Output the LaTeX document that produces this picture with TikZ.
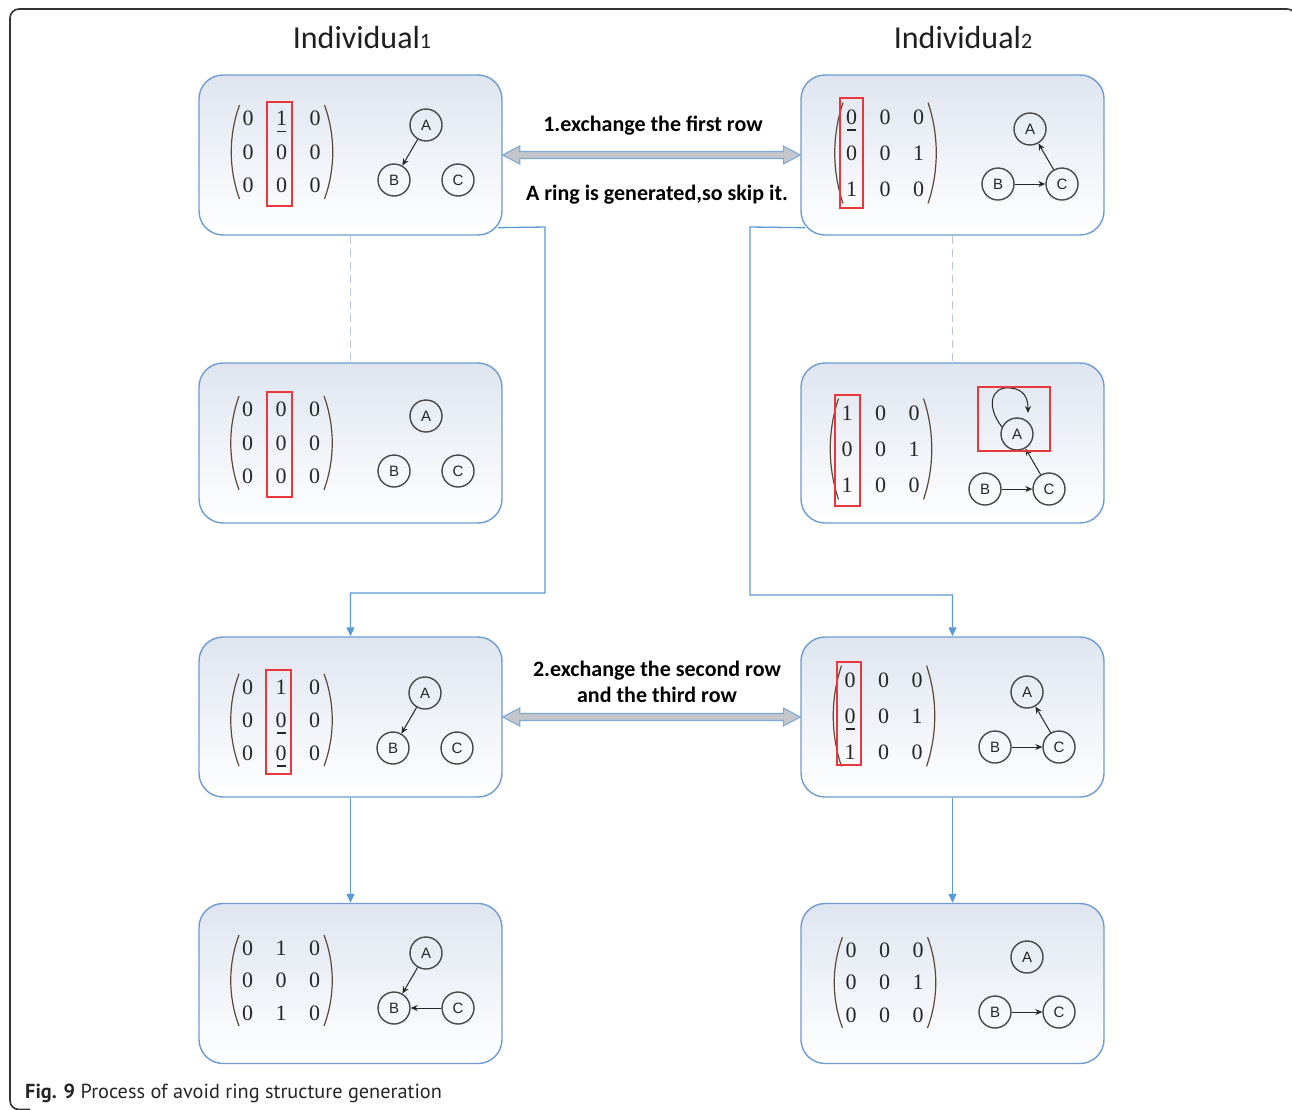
\documentclass[tikz,border=0pt]{standalone}
\usepackage{fontspec}
\newfontfamily\headfont{Carlito}
\newfontfamily\capfont{PT Sans}
\newfontfamily\vertfont{Liberation Sans}
\newfontfamily\digitfont{Liberation Serif}
\usetikzlibrary{arrows.meta,calc}

\definecolor{panelline}{HTML}{6E9CD2}
\definecolor{paneltop}{HTML}{DFE5F0}
\definecolor{flowblue}{HTML}{5B9BD5}
\definecolor{markred}{HTML}{E8383D}
\definecolor{guidegrey}{HTML}{BCC6D6}
\definecolor{swapfill}{HTML}{C4C6CA}
\definecolor{swapline}{HTML}{7FA9D9}
\definecolor{parencol}{HTML}{5A4A3A}

% 3x3 adjacency matrix: prefix, centre x, centre y, row step, nine entries
\newcommand\adjmat[5]{%
  \foreach \v [count=\i from 0] in {#5} {
    \pgfmathtruncatemacro\rr{div(\i,3)}%
    \pgfmathtruncatemacro\cc{mod(\i,3)}%
    \node[digit] (#1m\i) at ({#2+(\cc-1)*33.5},{#3+(\rr-1)*#4}) {\v};
  }
  \draw[paren] ({#2-42},{#3-1.4*#4}) .. controls ({#2-53},{#3-0.5*#4}) and ({#2-53},{#3+0.5*#4}) .. ({#2-42},{#3+1.4*#4});
  \draw[paren] ({#2+43},{#3-1.4*#4}) .. controls ({#2+54},{#3-0.5*#4}) and ({#2+54},{#3+0.5*#4}) .. ({#2+43},{#3+1.4*#4});
}

% the three vertices A, B, C of a small network
\newcommand\abc[3]{%
  \node[vert] (#1A) at (#2,#3) {A};
  \node[vert] (#1B) at ({#2-32},{#3+55}) {B};
  \node[vert] (#1C) at ({#2+32},{#3+55}) {C};
}

% fat two-headed arrow between two panels
\newcommand\exchangearrow[2]{%
  \filldraw[swaparrow] let \p1=(#1.east), \p2=(#2.west) in
  (\x1,\y1) -- ({\x1+17pt},{\y1+9pt}) -- ({\x1+17pt},{\y1+3.5pt}) -- ({\x2-17pt},{\y1+3.5pt})
  -- ({\x2-17pt},{\y1+9pt}) -- (\x2,\y1) -- ({\x2-17pt},{\y1-9pt}) -- ({\x2-17pt},{\y1-3.5pt})
  -- ({\x1+17pt},{\y1-3.5pt}) -- ({\x1+17pt},{\y1-9pt}) -- cycle;
}

\begin{document}
\begin{tikzpicture}[x=1pt,y=-1pt,
  panel/.style={draw=panelline, line width=1.4, rounded corners=24, top color=paneltop,
    bottom color=white, minimum width=303, minimum height=160, inner sep=0},
  digit/.style={inner sep=0, font=\digitfont\fontsize{22}{24}\selectfont, text=black!85},
  paren/.style={draw=parencol, line width=1.2},
  vert/.style={circle, draw=black!72, line width=1.4, minimum size=32, inner sep=0,
    font=\vertfont\fontsize{15}{15}\selectfont, text=black!85},
  dagedge/.style={draw=black!85, line width=1, -{Stealth[length=7,width=6]}},
  redbox/.style={draw=markred, line width=1.5},
  uline/.style={draw=black!85, line width=1.2},
  flowline/.style={draw=flowblue, line width=1.3, -{Triangle[length=9,width=8]}},
  guide/.style={draw=guidegrey, line width=1.2, dash pattern=on 8pt off 5pt},
  swaparrow/.style={fill=swapfill, draw=swapline, line width=1.1},
  headtext/.style={font=\headfont\fontsize{32}{32}\selectfont, text=black!88},
  steptext/.style={font=\headfont\bfseries\fontsize{22}{26}\selectfont, align=center, text=black}]

\useasboundingbox (0,0) rectangle (1292,1109);
\clip (0,0) rectangle (1292,1109);
\fill[white] (0,0) rectangle (1292,1109);

% outer frame: only its top and left sides fall inside the page
\draw[line width=1.6, draw=black!80, rounded corners=9]
  (1296,40) -- (1296,9) -- (10,9) -- (10,1109.5) -- (30,1109.5);

% headings
\node[headtext] (h1) at (362,38) {Individual{\fontsize{22}{22}\selectfont 1}};
\node[headtext] (h2) at (963,38) {Individual{\fontsize{22}{22}\selectfont 2}};

% panels
\node[panel] (L1) at (350.5,155) {};
\node[panel] (R1) at (952.5,155) {};
\node[panel] (L2) at (350.5,443) {};
\node[panel] (R2) at (952.5,443) {};
\node[panel] (L3) at (350.5,717) {};
\node[panel] (R3) at (952.5,717) {};
\node[panel] (L4) at (350.5,983.5) {};
\node[panel] (R4) at (952.5,983.5) {};

% dashed guides
\draw[guide] (L1.south) -- (L2.north);
\draw[guide] (R1.south) -- (R2.north);

% flow connectors
\coordinate (L1out) at ($(L1.south east)+(-5,-8)$);
\coordinate (R1out) at ($(R1.south west)+(5,-8)$);
\draw[flowline] (L1out) -- (545,227) -- (545,593) -| (L3.north);
\draw[flowline] (R1out) -- (750,227) -- (750,595) -| (R3.north);
\draw[flowline] (L3.south) -- (L4.north);
\draw[flowline] (R3.south) -- (R4.north);

% exchange arrows and their texts
\exchangearrow{L1}{R1}
\exchangearrow{L3}{R3}
\node[steptext] (s1) at (653,126) {1.exchange the first row};
\node[steptext] (s1b) at (657,195) {A ring is generated,so skip it.};
\node[steptext] (s2) at (657,682) {2.exchange the second row\\and the third row};

% matrices
\adjmat{L1}{281.5}{152}{33.5}{0,1,0,0,0,0,0,0,0}
\adjmat{R1}{885}{153}{36}{0,0,0,0,0,1,1,0,0}
\adjmat{L2}{281}{443}{33.5}{0,0,0,0,0,0,0,0,0}
\adjmat{R2}{880.5}{449}{36}{1,0,0,0,0,1,1,0,0}
\adjmat{L3}{281}{720}{33}{0,1,0,0,0,0,0,0,0}
\adjmat{R3}{883.5}{716}{36}{0,0,0,0,0,1,1,0,0}
\adjmat{L4}{281}{980.5}{32.5}{0,1,0,0,0,0,0,1,0}
\adjmat{R4}{884.5}{982.5}{32.5}{0,0,0,0,0,1,0,0,0}

% underlined entries
\draw[uline] (277,131.5) -- (286,131.5);
\draw[uline] (847,130) -- (856,130);
\draw[uline] (276.5,733) -- (285.5,733);
\draw[uline] (276.5,766) -- (285.5,766);
\draw[uline] (845.5,729) -- (854.5,729);

% highlighted columns
\draw[redbox] (267,102) rectangle (292,206);
\draw[redbox] (840,98) rectangle (863,208);
\draw[redbox] (267,392) rectangle (292,497);
\draw[redbox] (835,395) rectangle (860,506);
\draw[redbox] (266,670) rectangle (291,774);
\draw[redbox] (837,662) rectangle (861,765);

% networks
\abc{L1}{426}{125}
\abc{R1}{1030}{129}
\abc{L2}{426}{416}
\abc{R2}{1017}{434}
\abc{L3}{425}{693}
\abc{R3}{1027}{692}
\abc{L4}{426}{953}
\abc{R4}{1027}{957}

\draw[dagedge] (L1A) -- (L1B);
\draw[dagedge] (R1B) -- (R1C);
\draw[dagedge] (R1C) -- (R1A);
\draw[dagedge] (R2B) -- (R2C);
\draw[dagedge] (R2C) -- (R2A);
\draw[dagedge] (R2A.155) .. controls (985,405) and (992,386) .. (1010,388) .. controls (1024,389) and (1028,398) .. (1028,413);
\draw[redbox] (978,387) rectangle (1050,451);
\draw[dagedge] (L3A) -- (L3B);
\draw[dagedge] (R3B) -- (R3C);
\draw[dagedge] (R3C) -- (R3A);
\draw[dagedge] (L4A) -- (L4B);
\draw[dagedge] (L4C) -- (L4B);
\draw[dagedge] (R4B) -- (R4C);

% caption
\node[anchor=base west, inner sep=0, font=\capfont\fontsize{20.3}{22}\selectfont, text=black!85] (cap) at (25,1098)
  {\textbf{Fig. 9} Process of avoid ring structure generation};
\end{tikzpicture}
\end{document}
